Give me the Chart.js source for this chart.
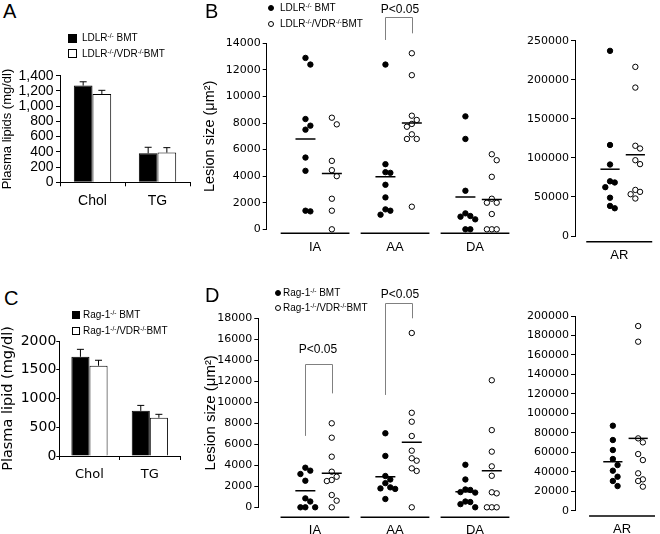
<!DOCTYPE html>
<html><head><meta charset="utf-8">
<script src="https://cdn.jsdelivr.net/npm/chart.js@4.4.1/dist/chart.umd.min.js"></script>
<style>
html,body{margin:0;padding:0;background:#fff;}
#fig{position:relative;width:660px;height:534px;overflow:hidden;background:#fff;font-family:"Liberation Sans",Arial,sans-serif;color:#000;}
#fig canvas{position:absolute;}
.t{position:absolute;white-space:nowrap;line-height:1;}
.letter{font-size:20px;}
.leg{font-size:10px;}
.leg sup{font-size:6.5px;vertical-align:3.5px;line-height:0;}
.pv{font-size:12px;transform:translateX(-50%);}
.sq{position:absolute;box-sizing:border-box;border:1px solid #000;}
.dot{position:absolute;box-sizing:border-box;border:1px solid #000;border-radius:50%;width:6px;height:6px;}
</style></head><body><div id="fig">
<div class="t letter" style="left:3px;top:1px">A</div>
<div class="t letter" style="left:205px;top:1px">B</div>
<div class="t letter" style="left:4px;top:288px">C</div>
<div class="t letter" style="left:205px;top:285px">D</div>

<div class="sq" style="left:68px;top:34px;width:9px;height:9px;background:#000"></div>
<div class="t leg" style="left:82px;top:33px">LDLR<sup>-/-</sup> BMT</div>
<div class="sq" style="left:68px;top:49px;width:9px;height:9px;background:#fff"></div>
<div class="t leg" style="left:82px;top:49px">LDLR<sup>-/-</sup>/VDR<sup>-/-</sup>BMT</div>

<div class="dot" style="left:268px;top:5px;background:#000"></div>
<div class="t leg" style="left:280px;top:3px">LDLR<sup>-/-</sup> BMT</div>
<div class="dot" style="left:268px;top:21px;background:#fff"></div>
<div class="t leg" style="left:280px;top:19px">LDLR<sup>-/-</sup>/VDR<sup>-/-</sup>BMT</div>

<div class="sq" style="left:72px;top:311px;width:8px;height:8px;background:#000"></div>
<div class="t leg" style="left:83px;top:310px">Rag-1<sup>-/-</sup> BMT</div>
<div class="sq" style="left:72px;top:327px;width:8px;height:8px;background:#fff"></div>
<div class="t leg" style="left:83px;top:326px">Rag-1<sup>-/-</sup>/VDR<sup>-/-</sup>BMT</div>

<div class="dot" style="left:275px;top:290px;background:#000"></div>
<div class="t leg" style="left:283px;top:288px">Rag-1<sup>-/-</sup> BMT</div>
<div class="dot" style="left:275px;top:305px;background:#fff"></div>
<div class="t leg" style="left:283px;top:303px">Rag-1<sup>-/-</sup>/VDR<sup>-/-</sup>BMT</div>

<div class="t pv" style="left:400px;top:3px">P&lt;0.05</div>
<div class="t pv" style="left:400px;top:288px">P&lt;0.05</div>
<div class="t pv" style="left:318px;top:343px">P&lt;0.05</div>
</div>
<script>
// ---------- DATA ----------
const lipidCats = ['Chol', 'TG'];
const aTicks = [0, 200, 400, 600, 800, 1000, 1200, 1400];
const aLDLR = [1270, 380];
const aLDLRErr = [50, 80];
const aLDLRVDR = [1160, 390];
const aLDLRVDRErr = [48, 65];

const cTicks = [0, 500, 1000, 1500, 2000];
const cRag = [1725, 785];
const cRagErr = [130, 95];
const cRagVDR = [1570, 665];
const cRagVDRErr = [95, 60];

const lesionCats = ['IA', 'AA', 'DA'];
const archCats = ['AR'];
const bTicks = [0, 2000, 4000, 6000, 8000, 10000, 12000, 14000];
const bArTicks = [0, 50000, 100000, 150000, 200000, 250000];
const dTicks = [0, 2000, 4000, 6000, 8000, 10000, 12000, 14000, 16000, 18000];
const dArTicks = [0, 20000, 40000, 60000, 80000, 100000, 120000, 140000, 160000, 180000, 200000];

// Panel B (LDLR-/- recipients)
const bLDLR_IA = [12900, 12400, 8300, 7800, 7500, 5400, 4400, 1400, 1350];
const bLDLRVDR_IA = [8400, 7900, 5150, 4450, 4000, 2300, 1400, 0];
const bLDLR_AA = [12400, 4900, 4300, 4250, 3350, 2400, 1500, 1400, 1100];
const bLDLRVDR_AA = [13250, 11600, 8550, 8230, 7930, 7720, 7150, 6800, 6800, 1700];
const bLDLR_DA = [8500, 6800, 2900, 1200, 1000, 950, 750, 0, 0];
const bLDLRVDR_DA = [5650, 5200, 3950, 2300, 2000, 2000, 1150, 0, 0, 0];
const bLDLR_AR = [237000, 116500, 91500, 70000, 68500, 62500, 49000, 38500, 35500];
const bLDLRVDR_AR = [216500, 190000, 115500, 112000, 97000, 92000, 59000, 56500, 53500, 48000];
const bMeanLDLR = [6800, 3950, 2430];
const bMeanLDLRVDR = [4200, 8000, 2250];
const bMeanLDLR_AR = [85500];
const bMeanLDLRVDR_AR = [104000];

// Panel D (Rag-1-/- recipients)
const dRag_IA = [3770, 3490, 3170, 2530, 850, 550, 0, 0, 0];
const dRagVDR_IA = [8000, 6630, 4820, 3390, 2910, 2600, 2500, 1170, 630, 0];
const dRag_AA = [7050, 4890, 2980, 2650, 2300, 1900, 1800, 1750, 790];
const dRagVDR_AA = [16600, 9000, 8150, 6790, 5390, 4670, 4440, 3710, 3460, 0];
const dRag_DA = [4050, 2650, 1700, 1650, 1450, 1400, 550, 500, 300, 0];
const dRagVDR_DA = [12100, 7350, 5300, 3900, 3000, 1430, 1330, 0, 0, 0];
const dRag_AR = [87300, 72600, 62300, 53100, 46900, 41100, 34900, 30500, 25300];
const dRagVDR_AR = [189700, 173600, 74300, 70200, 58200, 52000, 38400, 32200, 30500, 24700];
const dMeanRag = [1580, 2900, 1480];
const dMeanRagVDR = [3240, 6200, 3480];
const dMeanRag_AR = [50300];
const dMeanRagVDR_AR = [74300];

// ---------- HELPERS ----------
Chart.defaults.color = '#000';
const fig = document.getElementById('fig');
function makeCanvas(left, top, w, h) {
  const c = document.createElement('canvas');
  c.width = w; c.height = h;
  c.style.left = left + 'px'; c.style.top = top + 'px';
  c.style.width = w + 'px'; c.style.height = h + 'px';
  fig.insertBefore(c, fig.firstChild);
  return c;
}
const PX_PER_CAT = 81.5, BLACK_OFF = -0.12, WHITE_OFF = 0.21, MEAN_HALF = 0.125;

// simple beeswarm: points sharing a column must be >= 7px apart vertically, else shift by 5px
function swarm(values, center, pxPerY) {
  const step = 5, minDy = 7, placed = [];
  const order = [0, 1, -1, 2, -2, 3, -3, 4, -4, 5, -5];
  return values.map(v => {
    const py = v * pxPerY;
    let off = 0;
    for (const k of order) {
      const px = k * step;
      if (placed.every(p => Math.abs(p.px - px) >= step - 0.1 || Math.abs(p.py - py) >= minDy)) { off = px; break; }
    }
    placed.push({ px: off, py });
    return { x: center + off / PX_PER_CAT, y: v };
  });
}

const errorBars = {
  id: 'errorBars',
  afterDatasetsDraw(chart) {
    const { ctx } = chart; const ys = chart.scales.y;
    chart.data.datasets.forEach((ds, di) => {
      const meta = chart.getDatasetMeta(di);
      meta.data.forEach((bar, i) => {
        const top = ys.getPixelForValue(ds.data[i] + ds.errors[i]);
        ctx.save(); ctx.strokeStyle = '#000'; ctx.lineWidth = 1;
        ctx.beginPath();
        ctx.moveTo(bar.x, bar.y); ctx.lineTo(bar.x, top);
        ctx.moveTo(bar.x - 3.5, top); ctx.lineTo(bar.x + 3.5, top);
        ctx.stroke(); ctx.restore();
      });
    });
  }
};

function barChart(o) {
  const cv = makeCanvas(o.left, o.top, o.w, o.h);
  new Chart(cv, {
    type: 'bar',
    data: {
      labels: o.cats,
      datasets: [
        { data: o.s1, errors: o.e1, backgroundColor: '#000', borderColor: '#000', borderWidth: 1 },
        { data: o.s2, errors: o.e2, backgroundColor: '#fff', borderColor: '#000', borderWidth: 1 }
      ]
    },
    options: {
      responsive: false, animation: false, devicePixelRatio: 1,
      layout: { padding: { left: 0, top: o.pt, right: o.pr, bottom: 0 } },
      datasets: { bar: { barPercentage: 1, categoryPercentage: o.catPct } },
      plugins: { legend: { display: false }, tooltip: { enabled: false } },
      scales: {
        x: {
          grid: { drawOnChartArea: false, drawTicks: true, tickLength: 4, color: '#000', offset: true },
          border: { display: true, color: '#000', width: 1 },
          ticks: { font: o.xFont, color: '#000', padding: o.xPad, maxRotation: 0, autoSkip: false },
          afterFit: s => { s.height = o.hX; }
        },
        y: {
          min: 0, max: o.ticks[o.ticks.length - 1],
          afterBuildTicks: s => { s.ticks = o.ticks.map(v => ({ value: v })); },
          grid: { drawOnChartArea: false, drawTicks: true, tickLength: o.tickLen, color: '#000' },
          border: { display: true, color: '#000', width: 1 },
          ticks: { font: o.yFont, color: '#000', padding: o.yPad, callback: o.fmt, autoSkip: false },
          title: { display: true, text: o.title, font: o.titleFont, color: '#000', padding: { top: o.titlePad, bottom: 0 } },
          afterFit: s => { s.width = o.yW; }
        }
      }
    },
    plugins: [errorBars]
  });
}

function lesionChart(o) {
  const cv = makeCanvas(o.left, o.top, o.w, o.h);
  const plotH = o.h - o.pt - o.hX;
  const yMax = o.ticks[o.ticks.length - 1];
  const pxPerY = plotH / yMax;
  const blackPts = [], whitePts = [], meanB = [], meanW = [];
  o.cats.forEach((c, i) => {
    const x = i + 1;
    blackPts.push(...swarm(o.black[i], x + BLACK_OFF, pxPerY));
    whitePts.push(...swarm(o.white[i], x + WHITE_OFF, pxPerY));
    meanB.push({ x: x + BLACK_OFF - MEAN_HALF, y: o.meanB[i] }, { x: x + BLACK_OFF + MEAN_HALF, y: o.meanB[i] }, { x: x + 0.05, y: null });
    meanW.push({ x: x + WHITE_OFF - MEAN_HALF, y: o.meanW[i] }, { x: x + WHITE_OFF + MEAN_HALF, y: o.meanW[i] }, { x: x + 0.5, y: null });
  });
  const extras = {
    id: 'extras',
    afterDraw(chart) {
      const { ctx, chartArea } = chart; const xs = chart.scales.x, ys = chart.scales.y;
      ctx.save();
      ctx.strokeStyle = '#000'; ctx.lineWidth = 1.6;
      const ly = chartArea.bottom + o.lineGap;
      o.cats.forEach((c, i) => {
        ctx.beginPath();
        ctx.moveTo(xs.getPixelForValue(i + 1 - 0.43), ly);
        ctx.lineTo(xs.getPixelForValue(i + 1 + 0.43), ly);
        ctx.stroke();
      });
      ctx.strokeStyle = '#808080'; ctx.lineWidth = 1;
      (o.brackets || []).forEach(b => {
        const x1 = Math.round(xs.getPixelForValue(b.cat + BLACK_OFF)) + 0.5;
        const x2 = Math.round(xs.getPixelForValue(b.cat + WHITE_OFF)) + 0.5;
        const yt = Math.round(ys.getPixelForValue(b.top)) + 0.5;
        ctx.beginPath();
        ctx.moveTo(x1, ys.getPixelForValue(b.leftEnd)); ctx.lineTo(x1, yt);
        ctx.lineTo(x2, yt); ctx.lineTo(x2, ys.getPixelForValue(b.rightEnd));
        ctx.stroke();
      });
      ctx.restore();
    }
  };
  new Chart(cv, {
    type: 'scatter',
    data: {
      datasets: [
        { type: 'line', data: meanB, borderColor: '#000', borderWidth: 1.5, pointRadius: 0, spanGaps: false, clip: false },
        { type: 'line', data: meanW, borderColor: '#000', borderWidth: 1.5, pointRadius: 0, spanGaps: false, clip: false },
        { data: blackPts, backgroundColor: '#000', borderColor: '#000', borderWidth: 1, pointRadius: 2.7, clip: false },
        { data: whitePts, backgroundColor: '#fff', borderColor: '#000', borderWidth: 1, pointRadius: 2.7, clip: false }
      ]
    },
    options: {
      responsive: false, animation: false, devicePixelRatio: 1,
      layout: { padding: { left: 0, top: o.pt, right: o.pr, bottom: 0 } },
      plugins: { legend: { display: false }, tooltip: { enabled: false } },
      scales: {
        x: {
          type: 'linear', min: o.xMin, max: o.xMax,
          afterBuildTicks: s => { s.ticks = o.cats.map((c, i) => ({ value: i + 1 })); },
          grid: { display: false, drawTicks: false },
          border: { display: false },
          ticks: { callback: v => o.cats[v - 1] || '', font: { family: 'Liberation Sans', size: 13 }, color: '#000', padding: o.xPad, autoSkip: false, maxRotation: 0 },
          afterFit: s => { s.height = o.hX; }
        },
        y: {
          min: 0, max: yMax,
          afterBuildTicks: s => { s.ticks = o.ticks.map(v => ({ value: v })); },
          grid: { drawOnChartArea: false, drawTicks: true, tickLength: 4, color: '#000' },
          border: { display: true, color: '#000', width: 1 },
          ticks: { font: { family: 'DejaVu Sans', size: 11 }, color: '#000', padding: 2, callback: v => String(v), autoSkip: false },
          title: { display: !!o.title, text: o.title || '', font: { family: 'Liberation Sans', size: o.titleSize || 14 }, color: '#000', padding: { top: 1.6, bottom: 0 } },
          afterFit: s => { s.width = o.yW; }
        }
      }
    },
    plugins: [extras]
  });
}

// ---------- PANELS ----------
barChart({
  left: 0, top: 60, w: 200, h: 160, pt: 15.7, pr: 10, yW: 60, hX: 37.7, catPct: 0.575,
  cats: lipidCats, s1: aLDLR, e1: aLDLRErr, s2: aLDLRVDR, e2: aLDLRVDRErr, ticks: aTicks,
  fmt: v => v.toLocaleString('en-US'),
  xFont: { family: 'Liberation Sans', size: 14 }, xPad: 6,
  yFont: { family: 'Liberation Sans', size: 14 }, yPad: 2.5, tickLen: 4,
  title: 'Plasma lipids (mg/dl)', titleFont: { family: 'Liberation Sans', size: 13 }, titlePad: 0
});
barChart({
  left: 0, top: 320, w: 200, h: 180, pt: 21, pr: 20, yW: 59.3, hX: 44, catPct: 0.6,
  cats: lipidCats, s1: cRag, e1: cRagErr, s2: cRagVDR, e2: cRagVDRErr, ticks: cTicks,
  fmt: v => String(v),
  xFont: { family: 'DejaVu Sans', size: 13 }, xPad: 7,
  yFont: { family: 'DejaVu Sans', size: 14 }, yPad: 0, tickLen: 3,
  title: 'Plasma lipid (mg/dl)', titleFont: { family: 'DejaVu Sans', size: 14.5 }, titlePad: 0
});

lesionChart({
  left: 200, top: 0, w: 320, h: 265, pt: 43.3, pr: 0.25, yW: 66.7, hX: 35.7,
  xMin: 1 - (316 - 266.7) / PX_PER_CAT, xMax: 3.5, xPad: 10, lineGap: 4,
  cats: lesionCats, ticks: bTicks,
  black: [bLDLR_IA, bLDLR_AA, bLDLR_DA], white: [bLDLRVDR_IA, bLDLRVDR_AA, bLDLRVDR_DA],
  meanB: bMeanLDLR, meanW: bMeanLDLRVDR,
  title: 'Lesion size (\u03bcm\u00b2)', titleSize: 14.5,
  brackets: [{ cat: 2, top: 16000, leftEnd: 14250, rightEnd: 14750 }]
});
lesionChart({
  left: 520, top: 0, w: 140, h: 265, pt: 40.7, pr: 0, yW: 55, hX: 29,
  xMin: 1 - (622 - 575) / PX_PER_CAT, xMax: 1 + 38 / PX_PER_CAT, xPad: 12, lineGap: 5.7,
  cats: archCats, ticks: bArTicks,
  black: [bLDLR_AR], white: [bLDLRVDR_AR], meanB: bMeanLDLR_AR, meanW: bMeanLDLRVDR_AR
});
lesionChart({
  left: 200, top: 280, w: 320, h: 254, pt: 38.3, pr: 0.25, yW: 58.3, hX: 26.7,
  xMin: 1 - (316 - 258.3) / PX_PER_CAT, xMax: 3.5, xPad: 15, lineGap: 10,
  cats: lesionCats, ticks: dTicks,
  black: [dRag_IA, dRag_AA, dRag_DA], white: [dRagVDR_IA, dRagVDR_AA, dRagVDR_DA],
  meanB: dMeanRag, meanW: dMeanRagVDR,
  title: 'Lesion size (\u03bcm\u00b2)', titleSize: 15,
  brackets: [
    { cat: 1, top: 13650, leftEnd: 6800, rightEnd: 10850 },
    { cat: 2, top: 19500, leftEnd: 10700, rightEnd: 18000 }
  ]
});
lesionChart({
  left: 520, top: 280, w: 140, h: 254, pt: 36, pr: 0, yW: 55, hX: 23.3,
  xMin: 1 - (625 - 575) / PX_PER_CAT, xMax: 1 + 35 / PX_PER_CAT, xPad: 11, lineGap: 5.3,
  cats: archCats, ticks: dArTicks,
  black: [dRag_AR], white: [dRagVDR_AR], meanB: dMeanRag_AR, meanW: dMeanRagVDR_AR
});
</script>
</body></html>
